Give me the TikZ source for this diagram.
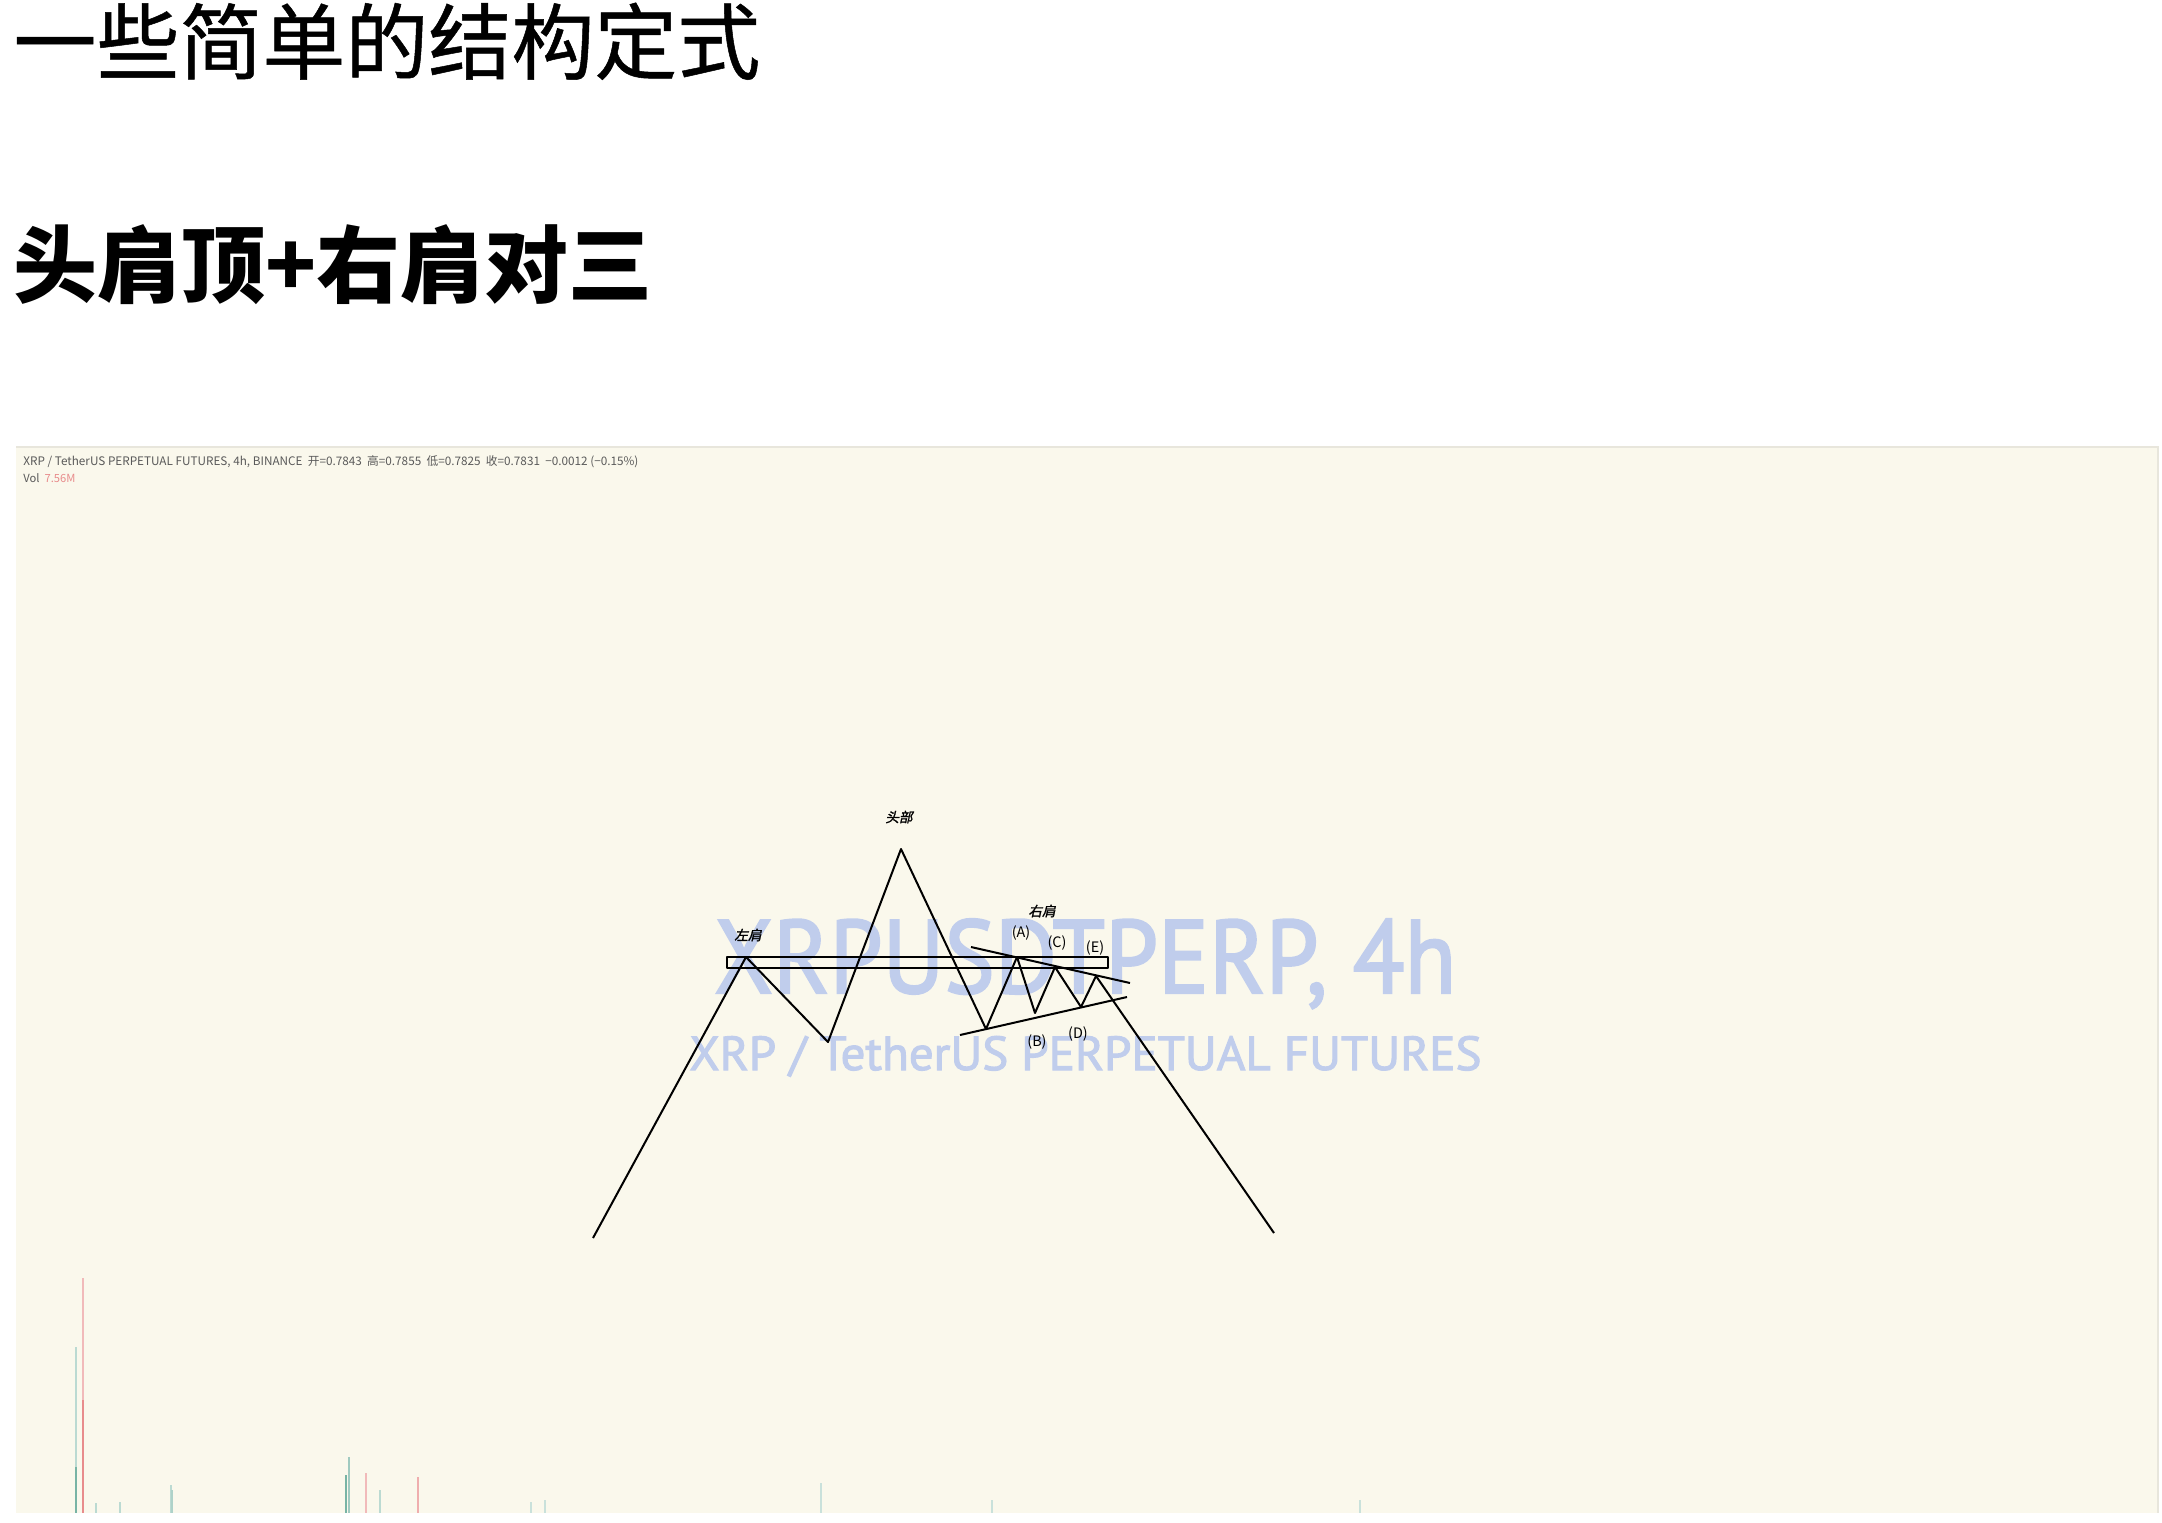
\documentclass[tikz,border=0pt]{standalone}
\usepackage{fontspec}
\setmainfont{Noto Sans CJK SC}
\newfontfamily\cjk{Noto Sans CJK SC}
\newfontfamily\cjkt[FakeBold=0.6]{Noto Sans CJK SC}
\newfontfamily\cjksl[FakeSlant=0.22,FakeBold=1.5]{Noto Sans CJK SC}
\newfontfamily\wmfont[FakeBold=2.2]{PT Sans}
\definecolor{chartbg}{RGB}{250,248,236}
\definecolor{chartedge}{RGB}{232,230,220}
\definecolor{wmblue}{RGB}{192,205,236}
\definecolor{hdrgrey}{RGB}{90,90,90}
\definecolor{volred}{RGB}{232,140,140}
\definecolor{volgreen}{RGB}{120,180,165}
\tikzset{
  titlea/.style={anchor=base west, inner sep=0pt, font=\cjkt\fontsize{41.5pt}{45pt}\selectfont},
  titleb/.style={anchor=base west, inner sep=0pt, font=\cjk\bfseries\fontsize{42pt}{45pt}\selectfont},
  hdr/.style={anchor=base west, inner sep=0pt, text=hdrgrey},
  wm/.style={anchor=base west, inner sep=0pt, text=wmblue},
  cnlab/.style={inner sep=0pt, font=\cjksl\fontsize{6.8pt}{7pt}\selectfont},
  ltlab/.style={inner sep=0pt, font=\cjk\fontsize{7.2pt}{8pt}\selectfont},
  pline/.style={line width=1pt, black, line join=round},
  volbar/.style={line width=1pt}
}
\begin{document}
\begin{tikzpicture}[x=0.5pt,y=-0.5pt]
\useasboundingbox (0,0) rectangle (2162,1522);
\fill[white] (0,0) rectangle (2162,1522);

% titles
\node[titlea] (t1) at (13,73) {一些简单的结构定式};
\node[titleb] (t2) at (13,296) {头肩顶+右肩对三};

% chart area
\fill[chartbg] (16,447) rectangle (2158,1513);
\draw[chartedge, line width=1pt] (16,447) -- (2158,447) -- (2158,1513);

% header
\node[hdr] (hdr1) at (23,465) {\resizebox{307.5pt}{!}{\fontsize{6pt}{7pt}\selectfont XRP / TetherUS PERPETUAL FUTURES, 4h, BINANCE\ \ 开=0.7843\ \ 高=0.7855\ \ 低=0.7825\ \ 收=0.7831\ \ −0.0012 (−0.15\%)}};
\node[hdr] (hdr2) at (23,482) {\fontsize{5.6pt}{7pt}\selectfont Vol\ \ \textcolor{volred}{7.56M}};

% volume bars
\draw[volbar, volred!60] (83,1278) -- (83,1513);
\draw[volbar, volred] (83,1400) -- (83,1513);
\draw[volbar, volgreen!50] (76,1347) -- (76,1513);
\draw[volbar, volgreen] (76,1467) -- (76,1513);
\draw[volbar, volgreen!50] (96,1503) -- (96,1513);
\draw[volbar, volgreen!50] (120,1502) -- (120,1513);
\draw[volbar, volgreen!50] (171,1485) -- (171,1513);
\draw[volbar, volgreen!60] (172,1490) -- (172,1513);
\draw[volbar, volgreen!70] (349,1457) -- (349,1513);
\draw[volbar, volgreen] (346,1475) -- (346,1513);
\draw[volbar, volred!60] (366,1473) -- (366,1513);
\draw[volbar, volgreen!50] (380,1490) -- (380,1513);
\draw[volbar, volred!70] (418,1477) -- (418,1513);
\draw[volbar, volgreen!40] (531,1502) -- (531,1513);
\draw[volbar, volgreen!40] (545,1500) -- (545,1513);
\draw[volbar, volgreen!40] (821,1483) -- (821,1513);
\draw[volbar, volgreen!40] (992,1500) -- (992,1513);
\draw[volbar, volgreen!40] (1360,1500) -- (1360,1513);

% watermark
\node[wm] (wm1) at (714,993) {\resizebox{371pt}{37pt}{\wmfont XRPUSDTPERP, 4h}};
\node[wm] (wm2) at (689,1070) {\resizebox{396pt}{17pt}{\wmfont XRP / TetherUS PERPETUAL FUTURES}};

% pattern vertices
\coordinate (L0) at (593,1238);
\coordinate (LS) at (746,957);
\coordinate (T1) at (828,1042);
\coordinate (H)  at (901,849);
\coordinate (T2) at (986,1029);
\coordinate (A)  at (1017,957);
\coordinate (B)  at (1035,1013);
\coordinate (C)  at (1055,967);
\coordinate (D)  at (1081,1007);
\coordinate (E)  at (1096,976);
\coordinate (R0) at (1274,1233);
\coordinate (N1) at (727,957);
\coordinate (N2) at (1108,968);
\coordinate (U1) at (971,947);
\coordinate (U2) at (1130,983);
\coordinate (W1) at (960,1035);
\coordinate (W2) at (1127,997);

% neckline box
\draw[pline] (N1) rectangle (N2);
% trend lines
\draw[pline] (U1) -- (U2);
\draw[pline] (W1) -- (W2);
% price path
\draw[pline] (L0) -- (LS) -- (T1) -- (H) -- (T2) -- (A) -- (B) -- (C) -- (D) -- (E) -- (R0);

% labels
\node[cnlab] (lhead) at (899,817) {头部};
\node[cnlab] (lls) at (748,935) {左肩};
\node[cnlab] (lrs) at (1042,911) {右肩};
\node[ltlab] (la) at (1021,933) {(A)};
\node[ltlab] (lc) at (1057,943) {(C)};
\node[ltlab] (le) at (1095,948) {(E)};
\node[ltlab] (lb) at (1037,1042) {(B)};
\node[ltlab] (ld) at (1078,1034) {(D)};
\end{tikzpicture}
\end{document}
